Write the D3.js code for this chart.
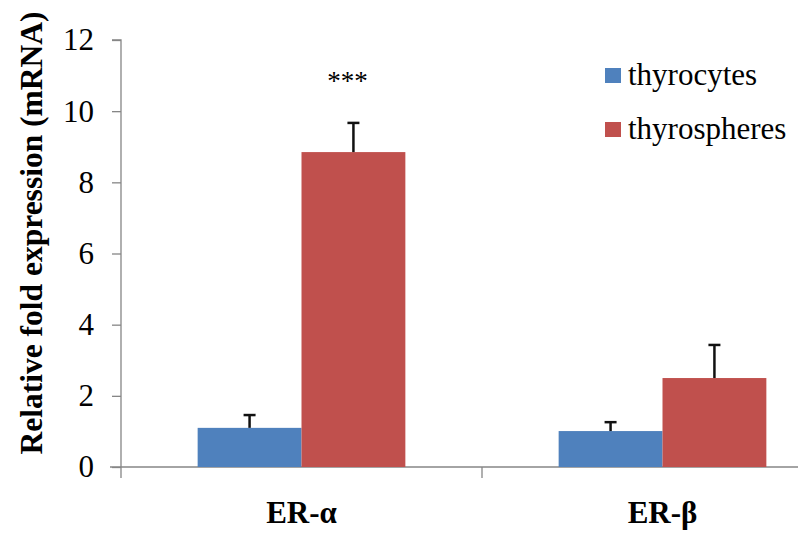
<!DOCTYPE html>
<html>
<head>
<meta charset="utf-8">
<script src="https://cdn.jsdelivr.net/npm/d3@7"></script>
<style>
  html, body { margin: 0; padding: 0; background: #fff; }
  svg { display: block; }
  svg text { font-family: "Liberation Serif", "Times New Roman", Times, "DejaVu Serif", serif !important; }
</style>
</head>
<body>
<svg id="chart" width="798" height="534"></svg>
<script>
const categories = ["ER-α", "ER-β"];
const seriesNames = ["thyrocytes", "thyrospheres"];
const thyrocytes = [1.10, 1.01];
const thyrocytesErr = [0.36, 0.25];
const thyrospheres = [8.85, 2.50];
const thyrospheresErr = [0.82, 0.93];
const yTicks = [0, 2, 4, 6, 8, 10, 12];
const significance = ["***", ""];
const colors = ["#4F81BD", "#C0504D"];

const FONT = "'Liberation Serif', 'Times New Roman', Times, serif";
const svg = d3.select("#chart").attr("font-family", FONT);
const mLeft = 121, mRight = 843, mTop = 40, mBottom = 467;

const y = d3.scaleLinear().domain([0, 12]).range([mBottom, mTop]);
const x0 = d3.scaleBand().domain(categories).range([mLeft, mRight]).padding(0);
const x1 = d3.scaleBand().domain(seriesNames).range([0, x0.bandwidth()])
  .paddingInner(0).paddingOuter(0.738);

const data = categories.map((c, i) => ({
  cat: c,
  sig: significance[i],
  vals: [
    { s: seriesNames[0], v: thyrocytes[i], e: thyrocytesErr[i], c: colors[0] },
    { s: seriesNames[1], v: thyrospheres[i], e: thyrospheresErr[i], c: colors[1] }
  ]
}));

// Y axis
const yAxis = d3.axisLeft(y).tickValues(yTicks).tickSize(9).tickPadding(18).tickFormat(d3.format("d"));
const gy = svg.append("g").attr("transform", `translate(${mLeft},0)`).call(yAxis)
  .attr("font-family", FONT);
gy.select(".domain").attr("stroke", "#868686").attr("stroke-width", 1.3)
  .attr("d", `M-9,${mTop}H0V${mBottom + 11}`);
gy.selectAll(".tick line").attr("stroke", "#868686").attr("stroke-width", 1.3);
gy.selectAll(".tick text").attr("font-family", FONT).attr("font-size", 31).attr("fill", "#000");

// X axis
const gx = svg.append("g").attr("transform", `translate(0,${mBottom})`);
gx.append("line").attr("x1", mLeft - 11).attr("x2", 798).attr("y1", 0).attr("y2", 0)
  .attr("stroke", "#868686").attr("stroke-width", 1.3);
gx.selectAll("line.sep").data(categories.slice(1)).enter().append("line")
  .attr("class", "sep")
  .attr("x1", d => x0(d)).attr("x2", d => x0(d))
  .attr("y1", 0).attr("y2", 11)
  .attr("stroke", "#868686").attr("stroke-width", 1.3);
gx.selectAll("text.cat").data(categories).enter().append("text")
  .attr("class", "cat")
  .attr("x", d => x0(d) + x0.bandwidth() / 2)
  .attr("y", 56)
  .attr("text-anchor", "middle")
  .attr("font-family", FONT)
  .attr("font-size", 31).attr("font-weight", "bold")
  .text(d => d);

// Bars
const groups = svg.selectAll("g.grp").data(data).enter().append("g")
  .attr("class", "grp")
  .attr("transform", d => `translate(${x0(d.cat)},0)`);

groups.selectAll("rect").data(d => d.vals).enter().append("rect")
  .attr("x", d => x1(d.s))
  .attr("width", x1.bandwidth())
  .attr("y", d => y(d.v))
  .attr("height", d => y(0) - y(d.v))
  .attr("fill", d => d.c);

// Error bars
const eb = groups.selectAll("g.err").data(d => d.vals).enter().append("g").attr("class", "err");
eb.append("line")
  .attr("x1", d => x1(d.s) + x1.bandwidth() / 2)
  .attr("x2", d => x1(d.s) + x1.bandwidth() / 2)
  .attr("y1", d => y(d.v))
  .attr("y2", d => y(d.v + d.e))
  .attr("stroke", "#111").attr("stroke-width", 2.5);
eb.append("line")
  .attr("x1", d => x1(d.s) + x1.bandwidth() / 2 - 6)
  .attr("x2", d => x1(d.s) + x1.bandwidth() / 2 + 6)
  .attr("y1", d => y(d.v + d.e))
  .attr("y2", d => y(d.v + d.e))
  .attr("stroke", "#111").attr("stroke-width", 2.5);

// Significance
groups.append("text")
  .attr("x", d => x1(seriesNames[1]) + x1.bandwidth() / 2 - 6)
  .attr("y", 90)
  .attr("text-anchor", "middle")
  .attr("font-family", FONT)
  .attr("font-size", 27)
  .text(d => d.sig);

// Y title
svg.append("text")
  .attr("transform", `translate(42,233) rotate(-90)`)
  .attr("text-anchor", "middle")
  .attr("font-family", FONT)
  .attr("font-size", 31.5).attr("font-weight", "bold")
  .text("Relative fold expression (mRNA)");

// Legend
const leg = svg.append("g").attr("transform", "translate(605,68)");
const li = leg.selectAll("g").data(seriesNames).enter().append("g")
  .attr("transform", (d, i) => `translate(0,${i * 54})`);
li.append("rect").attr("width", 16).attr("height", 15).attr("fill", (d, i) => colors[i]);
li.append("text").attr("x", 23).attr("y", 17).attr("font-family", FONT).attr("font-size", 31).text(d => d);
</script>
</body>
</html>
